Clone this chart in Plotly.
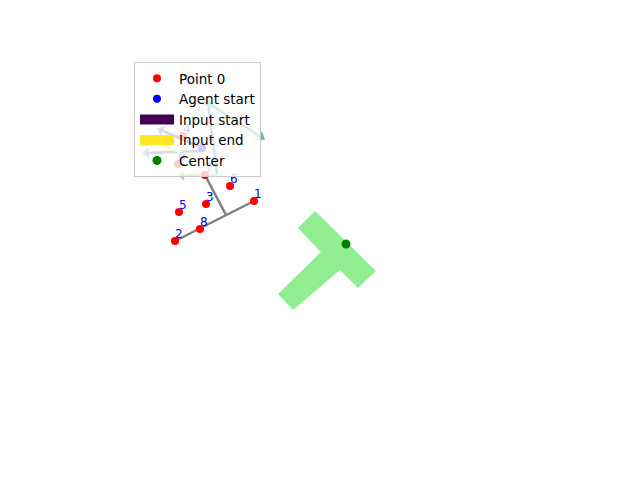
import plotly.graph_objects as go

# agent keypoints (image coords, y down)
point_x = [178, 254, 175, 206, 183, 179, 230, 205, 200]
point_y = [164, 201, 241, 204, 136, 212, 186, 175, 229]
point_ids = [str(i) for i in range(len(point_x))]

# skeleton segments
bone_x = [[254, 175], [205, 226]]
bone_y = [[201, 241], [175, 215]]

agent_start = (202, 148)

# input arrows: start, end, colour
arrow_x0 = [200, 200, 217, 208, 217, 200]
arrow_y0 = [147, 151, 174, 103, 175, 159]
arrow_x1 = [161, 147, 208, 261, 182, 151]
arrow_y1 = [130, 153, 103, 137, 175, 142]
arrow_col = ["#482878", "#3e4989", "#26828e", "#1f9e89", "#6ece58", "#fde725"]

# T-shaped target region
t_x = [315, 376, 358, 340, 293, 278, 321, 298, 315]
t_y = [211, 271, 288, 270, 310, 294, 252, 228, 211]
center = (346, 244)

# the page body adds an 8px margin, shift the view to compensate
pad = 8

fig = go.Figure()

fig.add_trace(go.Scatter(
    x=t_x, y=t_y, mode="lines", fill="toself",
    fillcolor="#90ee90", line=dict(width=0, color="#90ee90"),
    showlegend=False, hoverinfo="skip"
))

for bx, by in zip(bone_x, bone_y):
    fig.add_trace(go.Scatter(
        x=bx, y=by, mode="lines",
        line=dict(color="gray", width=2.5), showlegend=False
    ))

for i in range(len(arrow_x0)):
    fig.add_trace(go.Scatter(
        x=[arrow_x0[i], arrow_x1[i]], y=[arrow_y0[i], arrow_y1[i]],
        mode="lines+markers",
        line=dict(color=arrow_col[i], width=2.5),
        marker=dict(symbol=["circle", "triangle-up"], size=[0, 11],
                    angleref="previous", color=arrow_col[i]),
        showlegend=False
    ))

fig.add_trace(go.Scatter(
    x=point_x, y=point_y, mode="markers", name="Point 0",
    marker=dict(color="red", size=8)
))
fig.add_trace(go.Scatter(
    x=point_x, y=point_y, mode="text", text=point_ids,
    textposition="top right",
    textfont=dict(color="blue", size=12, family="DejaVu Sans"),
    showlegend=False
))

fig.add_trace(go.Scatter(
    x=[agent_start[0]], y=[agent_start[1]], mode="markers",
    name="Agent start", marker=dict(color="blue", size=8)
))

# legend-only patches
fig.add_trace(go.Scatter(
    x=[None], y=[None], mode="lines", name="Input start",
    line=dict(color="#440154", width=10)
))
fig.add_trace(go.Scatter(
    x=[None], y=[None], mode="lines", name="Input end",
    line=dict(color="#fde725", width=10)
))

fig.add_trace(go.Scatter(
    x=[center[0]], y=[center[1]], mode="markers", name="Center",
    marker=dict(color="green", size=9)
))

fig.update_layout(
    width=640, height=480,
    margin=dict(l=0, r=0, t=0, b=0),
    paper_bgcolor="white", plot_bgcolor="white",
    xaxis=dict(range=[pad, 640 + pad], visible=False),
    yaxis=dict(range=[480 + pad, pad], visible=False),
    font=dict(family="DejaVu Sans", size=13, color="black"),
    legend=dict(
        x=(134 - pad) / 640, y=1 - (62 - pad) / 480,
        xanchor="left", yanchor="top",
        bgcolor="rgba(255,255,255,0.8)", bordercolor="#cccccc", borderwidth=1,
        font=dict(size=13.5), tracegroupgap=0, itemwidth=34
    ),
)

fig.write_html("out.html")
